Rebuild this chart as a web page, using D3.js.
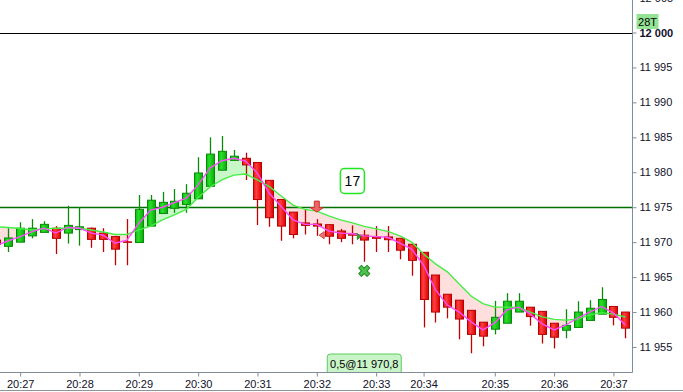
<!DOCTYPE html>
<html>
<head>
<meta charset="utf-8">
<script src="https://cdn.jsdelivr.net/npm/d3@7"></script>
<style>
body { margin: 0; background: #fff; }
svg { display: block; font-family: "Liberation Sans", Arial, sans-serif; }
</style>
</head>
<body>
<div id="chart-area"></div>
<script>
// bars -1..52 (first one is cut by the left edge)
var barIdx = d3.range(-1, 53);
var open  = [11970.3, 11969.4, 11970.0, 11970.9, 11971.4, 11972.0, 11971.3, 11971.8, 11972.0, 11971.3,
             11970.8, 11970.05, 11969.95, 11972.3, 11974.1, 11974.85, 11975.4, 11976.2, 11978.0, 11980.3,
             11981.7, 11982.0, 11981.4, 11978.85, 11976.1, 11974.3, 11972.75, 11972.6, 11972.5, 11971.6,
             11971.2, 11971.0, 11970.75, 11970.75, 11970.55, 11969.7, 11968.55, 11965.3, 11962.55, 11961.7,
             11960.25, 11958.55, 11957.55, 11958.4, 11960.0, 11960.7, 11960.1, 11958.4, 11957.4, 11957.8,
             11958.8, 11959.7, 11960.8, 11960.0];
var high  = [11970.6, 11972.0, 11972.85, 11973.3, 11973.0, 11972.3, 11975.2, 11975.0, 11972.1, 11972.0,
             11970.9, 11973.3, 11976.75, 11976.75, 11977.2, 11977.6, 11978.3, 11982.15, 11985.0, 11985.2,
             11983.2, 11982.8, 11981.4, 11978.85, 11976.1, 11974.3, 11974.6, 11973.3, 11972.5, 11971.9,
             11972.4, 11971.75, 11972.3, 11972.3, 11970.6, 11969.7, 11968.55, 11965.3, 11962.55, 11961.7,
             11960.25, 11958.55, 11961.6, 11962.7, 11962.7, 11960.7, 11960.1, 11958.4, 11960.4, 11961.55,
             11961.7, 11963.55, 11960.8, 11960.0];
var low   = [11967.6, 11968.6, 11970.0, 11970.55, 11971.4, 11968.3, 11969.8, 11969.5, 11969.2, 11968.6,
             11966.7, 11966.7, 11969.95, 11972.3, 11974.1, 11974.2, 11974.2, 11976.2, 11978.0, 11980.3,
             11981.7, 11978.9, 11972.45, 11972.2, 11970.2, 11970.55, 11971.1, 11970.9, 11969.7, 11970.0,
             11969.7, 11967.2, 11968.6, 11968.6, 11967.55, 11965.2, 11957.8, 11958.5, 11959.1, 11956.1,
             11954.1, 11955.1, 11956.8, 11958.4, 11960.0, 11958.05, 11955.5, 11954.8, 11956.25, 11957.8,
             11958.8, 11959.7, 11958.1, 11956.25];
var close = [11969.7, 11970.6, 11972.0, 11972.0, 11972.55, 11970.55, 11972.4, 11972.2, 11970.4, 11970.4,
             11969.0, 11970.0, 11974.7, 11976.0, 11975.7, 11975.85, 11977.0, 11979.9, 11982.6, 11983.0,
             11982.3, 11981.05, 11976.1, 11973.5, 11972.3, 11971.1, 11972.4, 11972.3, 11970.85, 11970.55,
             11971.0, 11970.3, 11970.55, 11970.35, 11968.85, 11967.4, 11961.8, 11960.0, 11960.7, 11959.0,
             11956.8, 11956.55, 11959.25, 11961.55, 11961.55, 11959.35, 11956.8, 11956.4, 11958.1, 11960.0,
             11960.55, 11961.8, 11959.25, 11957.7];
var fastMA = [11969.5, 11970.2, 11970.8, 11971.5, 11972.0, 11971.3, 11972.1, 11972.0, 11971.3, 11971.0,
              11969.85, 11970.3, 11972.7, 11974.6, 11975.0, 11975.65, 11976.3, 11978.2, 11980.6, 11981.65,
              11982.0, 11981.6, 11979.85, 11977.0, 11975.1, 11973.2, 11972.55, 11972.55, 11971.6, 11971.3,
              11971.2, 11970.9, 11970.8, 11970.7, 11969.85, 11969.0, 11966.7, 11963.2, 11961.0, 11960.0,
              11958.6, 11957.45, 11958.45, 11960.3, 11960.7, 11959.7, 11958.3, 11957.45, 11958.15, 11959.15,
              11960.0, 11960.8, 11959.85, 11958.15];
var slowMA = [11972.2, 11972.1, 11971.95, 11971.75, 11971.9, 11972.0, 11972.0, 11972.0, 11971.75, 11971.45,
              11971.1, 11971.1, 11971.75, 11972.3, 11973.2, 11973.9, 11974.7, 11976.4, 11977.9, 11978.9,
              11979.6, 11979.75, 11978.9, 11977.95, 11976.6, 11975.3, 11974.7, 11974.45, 11973.75, 11973.2,
              11972.75, 11972.25, 11971.9, 11971.55, 11970.9, 11970.0, 11968.3, 11966.9, 11965.75, 11964.0,
              11962.3, 11961.2, 11960.7, 11960.7, 11960.65, 11960.0, 11959.3, 11958.95, 11958.85, 11959.0,
              11959.6, 11959.9, 11959.7, 11959.3];

var timeTicks  = [1, 6, 11, 16, 21, 26, 31, 35, 41, 46, 51];
var timeLabels = ["20:27", "20:28", "20:29", "20:30", "20:31", "20:32", "20:33", "20:34", "20:35", "20:36", "20:37"];
var priceTicks = [11955, 11960, 11965, 11970, 11975, 11980, 11985, 11990, 11995, 12000, 12005];
var levels = [12000, 11975];

var countBar = 29, countPrice = 11978.75, countText = "17";
var tradeBar = 30, tradeQty = 0.5, tradePrice = 11970.8;
var stopBar = 30, stopPrice = 11965.9;
var sellArrowBar = 26, sellArrowPrice = 11974.3;
var exitBar = 27, exitPrice = 11971.0;
var barType = "28T";

var W = 683, H = 392, plotR = 632, axisY = 372;

var loc = d3.formatLocale({decimal: ",", thousands: " ", grouping: [3], currency: ["", ""]});
var fmtInt = loc.format(",d");
var fmt1 = loc.format(",.1f");

var svg = d3.select("#chart-area").append("svg")
	.attr("width", W)
	.attr("height", H);

var x = d3.scaleLinear().domain([0, 52]).range([8.3, 625.3]);
var y = d3.scaleLinear().domain([11955, 12000]).range([347, 32.5]);

var bars = barIdx.map(function(b, i) {
	return {i: b, o: open[i], h: high[i], l: low[i], c: close[i], f: fastMA[i], s: slowMA[i]};
});

var defs = svg.append("defs");
defs.append("clipPath").attr("id", "plot")
	.append("rect").attr("x", 0).attr("y", 0).attr("width", plotR).attr("height", axisY);
defs.append("clipPath").attr("id", "belowFast")
	.append("path").datum(bars)
	.attr("d", d3.area().x(d => x(d.i)).y0(axisY).y1(d => y(d.f)));
defs.append("clipPath").attr("id", "aboveFast")
	.append("path").datum(bars)
	.attr("d", d3.area().x(d => x(d.i)).y0(0).y1(d => y(d.f)));

function grad(id, a, b, c) {
	var lg = defs.append("linearGradient").attr("id", id).attr("x1", 0).attr("x2", 1).attr("y1", 0).attr("y2", 0);
	lg.append("stop").attr("offset", "0").attr("stop-color", a);
	lg.append("stop").attr("offset", "0.35").attr("stop-color", b);
	lg.append("stop").attr("offset", "1").attr("stop-color", c);
}
grad("gUp", "#0cb80c", "#2ae02a", "#09a809");
grad("gDn", "#e81010", "#ff4040", "#dc0000");

var g = svg.append("g").attr("clip-path", "url(#plot)");

// fill between the two averages
g.append("path").datum(bars)
	.attr("clip-path", "url(#belowFast)")
	.attr("fill", "#c8f8c8")
	.attr("d", d3.area().x(d => x(d.i)).y0(0).y1(d => y(d.s)));
g.append("path").datum(bars)
	.attr("clip-path", "url(#aboveFast)")
	.attr("fill", "#ffdede")
	.attr("d", d3.area().x(d => x(d.i)).y0(axisY).y1(d => y(d.s)));

// level lines
g.selectAll("line.level").data(levels).enter().append("line")
	.attr("class", "level")
	.attr("x1", 0).attr("x2", plotR)
	.attr("y1", d => Math.round(y(d)) + 0.5).attr("y2", d => Math.round(y(d)) + 0.5)
	.attr("stroke", (d, i) => i == 0 ? "#000" : "#007000")
	.attr("stroke-width", (d, i) => i == 0 ? 1 : 1.3);

// candles
var candles = g.selectAll("g.candle").data(bars).enter().append("g").attr("class", "candle");
candles.append("line")
	.attr("x1", d => Math.round(x(d.i)) + 0.5).attr("x2", d => Math.round(x(d.i)) + 0.5)
	.attr("y1", d => y(d.h)).attr("y2", d => y(d.l))
	.attr("stroke", d => d.c >= d.o ? "#0a8a0a" : "#c00000")
	.attr("stroke-width", 1.3);
candles.append("rect")
	.attr("x", d => Math.round(x(d.i)) - 3.5)
	.attr("width", 8)
	.attr("y", d => y(Math.max(d.o, d.c)))
	.attr("height", d => Math.max(0.5, Math.abs(y(d.o) - y(d.c))))
	.attr("fill", d => d.c >= d.o ? "url(#gUp)" : "url(#gDn)")
	.attr("stroke", d => d.c >= d.o ? "#078a07" : "#b80000")
	.attr("stroke-width", 1);

// averages
g.append("path").datum(bars)
	.attr("fill", "none").attr("stroke", "#44ee44").attr("stroke-width", 1.4)
	.attr("d", d3.line().x(d => x(d.i)).y(d => y(d.s)));
g.append("path").datum(bars)
	.attr("fill", "none").attr("stroke", "#ff4cff").attr("stroke-width", 1.4)
	.attr("d", d3.line().x(d => x(d.i)).y(d => y(d.f)));

// trade markers
var ax = x(sellArrowBar), ay = y(sellArrowPrice);
g.append("path")
	.attr("d", "M" + (ax - 2.5) + "," + (ay - 11) + "h5v6.5h4l-6.5,4.5l-6.5,-4.5h4z")
	.attr("fill", "#f06464").attr("stroke", "#c83232").attr("stroke-width", 1);
var ex = x(exitBar) - 9.5, ey = y(exitPrice);
g.append("path")
	.attr("d", "M" + ex + "," + ey + "l5,-3.5v7z")
	.attr("fill", "#f07878").attr("stroke", "#d04444").attr("stroke-width", 1);
var tx = x(tradeBar) - 7, ty = y(tradePrice);
g.append("path")
	.attr("d", "M" + tx + "," + (ty - 3) + "l4,3l-4,3z")
	.attr("fill", "#2ea82e").attr("stroke", "#1c801c").attr("stroke-width", 0.8);
g.append("path")
	.attr("d", d3.symbol(d3.symbolCross, 78)())
	.attr("transform", "translate(" + x(stopBar) + "," + y(stopPrice) + ") rotate(45)")
	.attr("fill", "#4cc04c").attr("stroke", "#2a8a2a").attr("stroke-width", 1)
	.attr("stroke-linejoin", "round");

// bar counter box
var cx = x(countBar), cy = y(countPrice);
svg.append("rect")
	.attr("x", cx - 12).attr("y", cy - 12.5).attr("width", 24).attr("height", 25).attr("rx", 4)
	.attr("fill", "#fff").attr("stroke", "#22e622").attr("stroke-width", 1.5);
svg.append("text")
	.attr("x", cx).attr("y", cy + 5)
	.attr("text-anchor", "middle").attr("font-size", "14px").attr("fill", "#000")
	.text(countText);

// axes
var yAxis = d3.axisRight(y).tickValues(priceTicks).tickSize(4).tickPadding(3).tickFormat(fmtInt);
var ya = svg.append("g").attr("transform", "translate(" + (plotR + 0.5) + ",0)").call(yAxis);
ya.select(".domain").remove();
ya.selectAll(".tick line").attr("stroke", "#7f8c99");
ya.selectAll(".tick text")
	.attr("font-family", "'Liberation Sans', Arial, sans-serif")
	.attr("font-size", "11px")
	.attr("fill", "#10102a")
	.attr("font-weight", d => d == 12000 ? "bold" : "normal");

var xAxis = d3.axisBottom(x).tickValues(timeTicks).tickSize(4).tickPadding(4)
	.tickFormat((d, i) => timeLabels[i]);
var xa = svg.append("g").attr("transform", "translate(0," + (axisY + 0.5) + ")").call(xAxis);
xa.select(".domain").remove();
xa.selectAll(".tick line").attr("stroke", "#7f8c99");
xa.selectAll(".tick text")
	.attr("font-family", "'Liberation Sans', Arial, sans-serif")
	.attr("font-size", "11px")
	.attr("fill", "#10102a");

svg.append("line")
	.attr("x1", plotR + 0.5).attr("x2", plotR + 0.5).attr("y1", 0).attr("y2", axisY + 0.5)
	.attr("stroke", "#7f8c99");
svg.append("line")
	.attr("x1", 0).attr("x2", plotR + 0.5).attr("y1", axisY + 0.5).attr("y2", axisY + 0.5)
	.attr("stroke", "#7f8c99");
svg.append("line")
	.attr("x1", 0).attr("x2", W).attr("y1", H - 1.5).attr("y2", H - 1.5)
	.attr("stroke", "#8c949c");

// trade label on the time axis
var lx = x(tradeBar);
svg.append("path")
	.attr("d", "M" + (lx - 37) + "," + axisY + "v-15a3,3 0 0 1 3,-3h68a3,3 0 0 1 3,3v15")
	.attr("fill", "#c8f4c8").attr("stroke", "#5ccc5c").attr("stroke-width", 1);
svg.append("text")
	.attr("x", lx).attr("y", axisY - 4)
	.attr("text-anchor", "middle").attr("font-size", "11px").attr("fill", "#000")
	.text(fmt1(tradeQty) + "@" + fmt1(tradePrice));

// bar type tag
svg.append("rect")
	.attr("x", 636.5).attr("y", 14).attr("width", 22).attr("height", 15)
	.attr("fill", "#94e294");
svg.append("text")
	.attr("x", 647.5).attr("y", 25.5)
	.attr("text-anchor", "middle").attr("font-size", "11px").attr("fill", "#000")
	.text(barType);
</script>
</body>
</html>
